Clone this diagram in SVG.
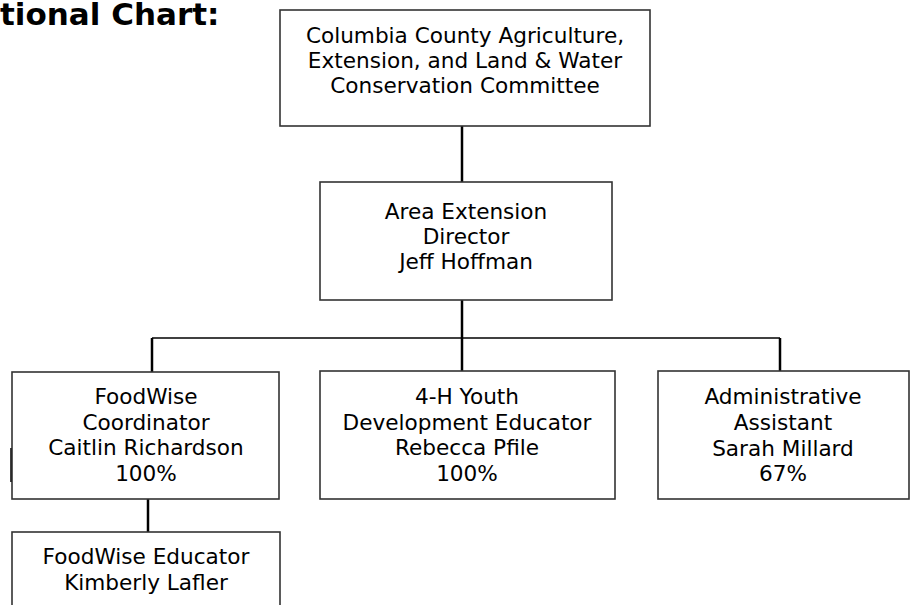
<svg xmlns="http://www.w3.org/2000/svg" width="911" height="605" viewBox="0 0 911 605">
<style>
.box{fill:#fff;stroke:#333;stroke-width:1.6}
.t{font-family:"DejaVu Sans",Verdana,sans-serif;font-size:21.6px;fill:#000;text-anchor:middle}
.title{font-family:"DejaVu Sans",Verdana,sans-serif;font-size:31px;font-weight:bold;fill:#000}
.c{stroke:#000;stroke-width:2.5;fill:none}
.bus{stroke:#000;stroke-width:1.5;fill:none}
</style>
<rect width="911" height="605" fill="#fff"/>
<text class="title" x="0" y="25">tional Chart:</text>
<g id="connectors">
<line class="c" x1="462" y1="126" x2="462" y2="182"/>
<line class="c" x1="462" y1="300" x2="462" y2="371"/>
<line class="bus" x1="152" y1="338" x2="780" y2="338"/>
<line class="c" x1="152" y1="338" x2="152" y2="372"/>
<line class="c" x1="780" y1="338" x2="780" y2="371"/>
<line class="c" x1="148" y1="499" x2="148" y2="532"/>
<line class="c" x1="11.5" y1="448" x2="11.5" y2="482" stroke-width="3"/>
</g>
<g id="committee">
<rect class="box" x="280" y="10" width="370" height="116"/>
<text class="t" x="465" y="43">Columbia County Agriculture,</text>
<text class="t" x="465" y="68">Extension, and Land &amp; Water</text>
<text class="t" x="465" y="93">Conservation Committee</text>
</g>
<g id="director">
<rect class="box" x="320" y="182" width="292" height="118"/>
<text class="t" x="466" y="219">Area Extension</text>
<text class="t" x="466" y="244">Director</text>
<text class="t" x="466" y="269">Jeff Hoffman</text>
</g>
<g id="foodwise-coordinator">
<rect class="box" x="12" y="372" width="267" height="127"/>
<text class="t" x="146" y="404">FoodWise</text>
<text class="t" x="146" y="430">Coordinator</text>
<text class="t" x="146" y="455">Caitlin Richardson</text>
<text class="t" x="146" y="481">100%</text>
</g>
<g id="youth-educator">
<rect class="box" x="320" y="371" width="295" height="128"/>
<text class="t" x="467" y="404">4-H Youth</text>
<text class="t" x="467" y="430">Development Educator</text>
<text class="t" x="467" y="455">Rebecca Pfile</text>
<text class="t" x="467" y="481">100%</text>
</g>
<g id="admin-assistant">
<rect class="box" x="658" y="371" width="251" height="128"/>
<text class="t" x="783" y="404">Administrative</text>
<text class="t" x="783" y="430">Assistant</text>
<text class="t" x="783" y="456">Sarah Millard</text>
<text class="t" x="783" y="481">67%</text>
</g>
<g id="foodwise-educator">
<rect class="box" x="12" y="532" width="268" height="90"/>
<text class="t" x="146" y="564">FoodWise Educator</text>
<text class="t" x="146" y="590">Kimberly Lafler</text>
</g>
</svg>
